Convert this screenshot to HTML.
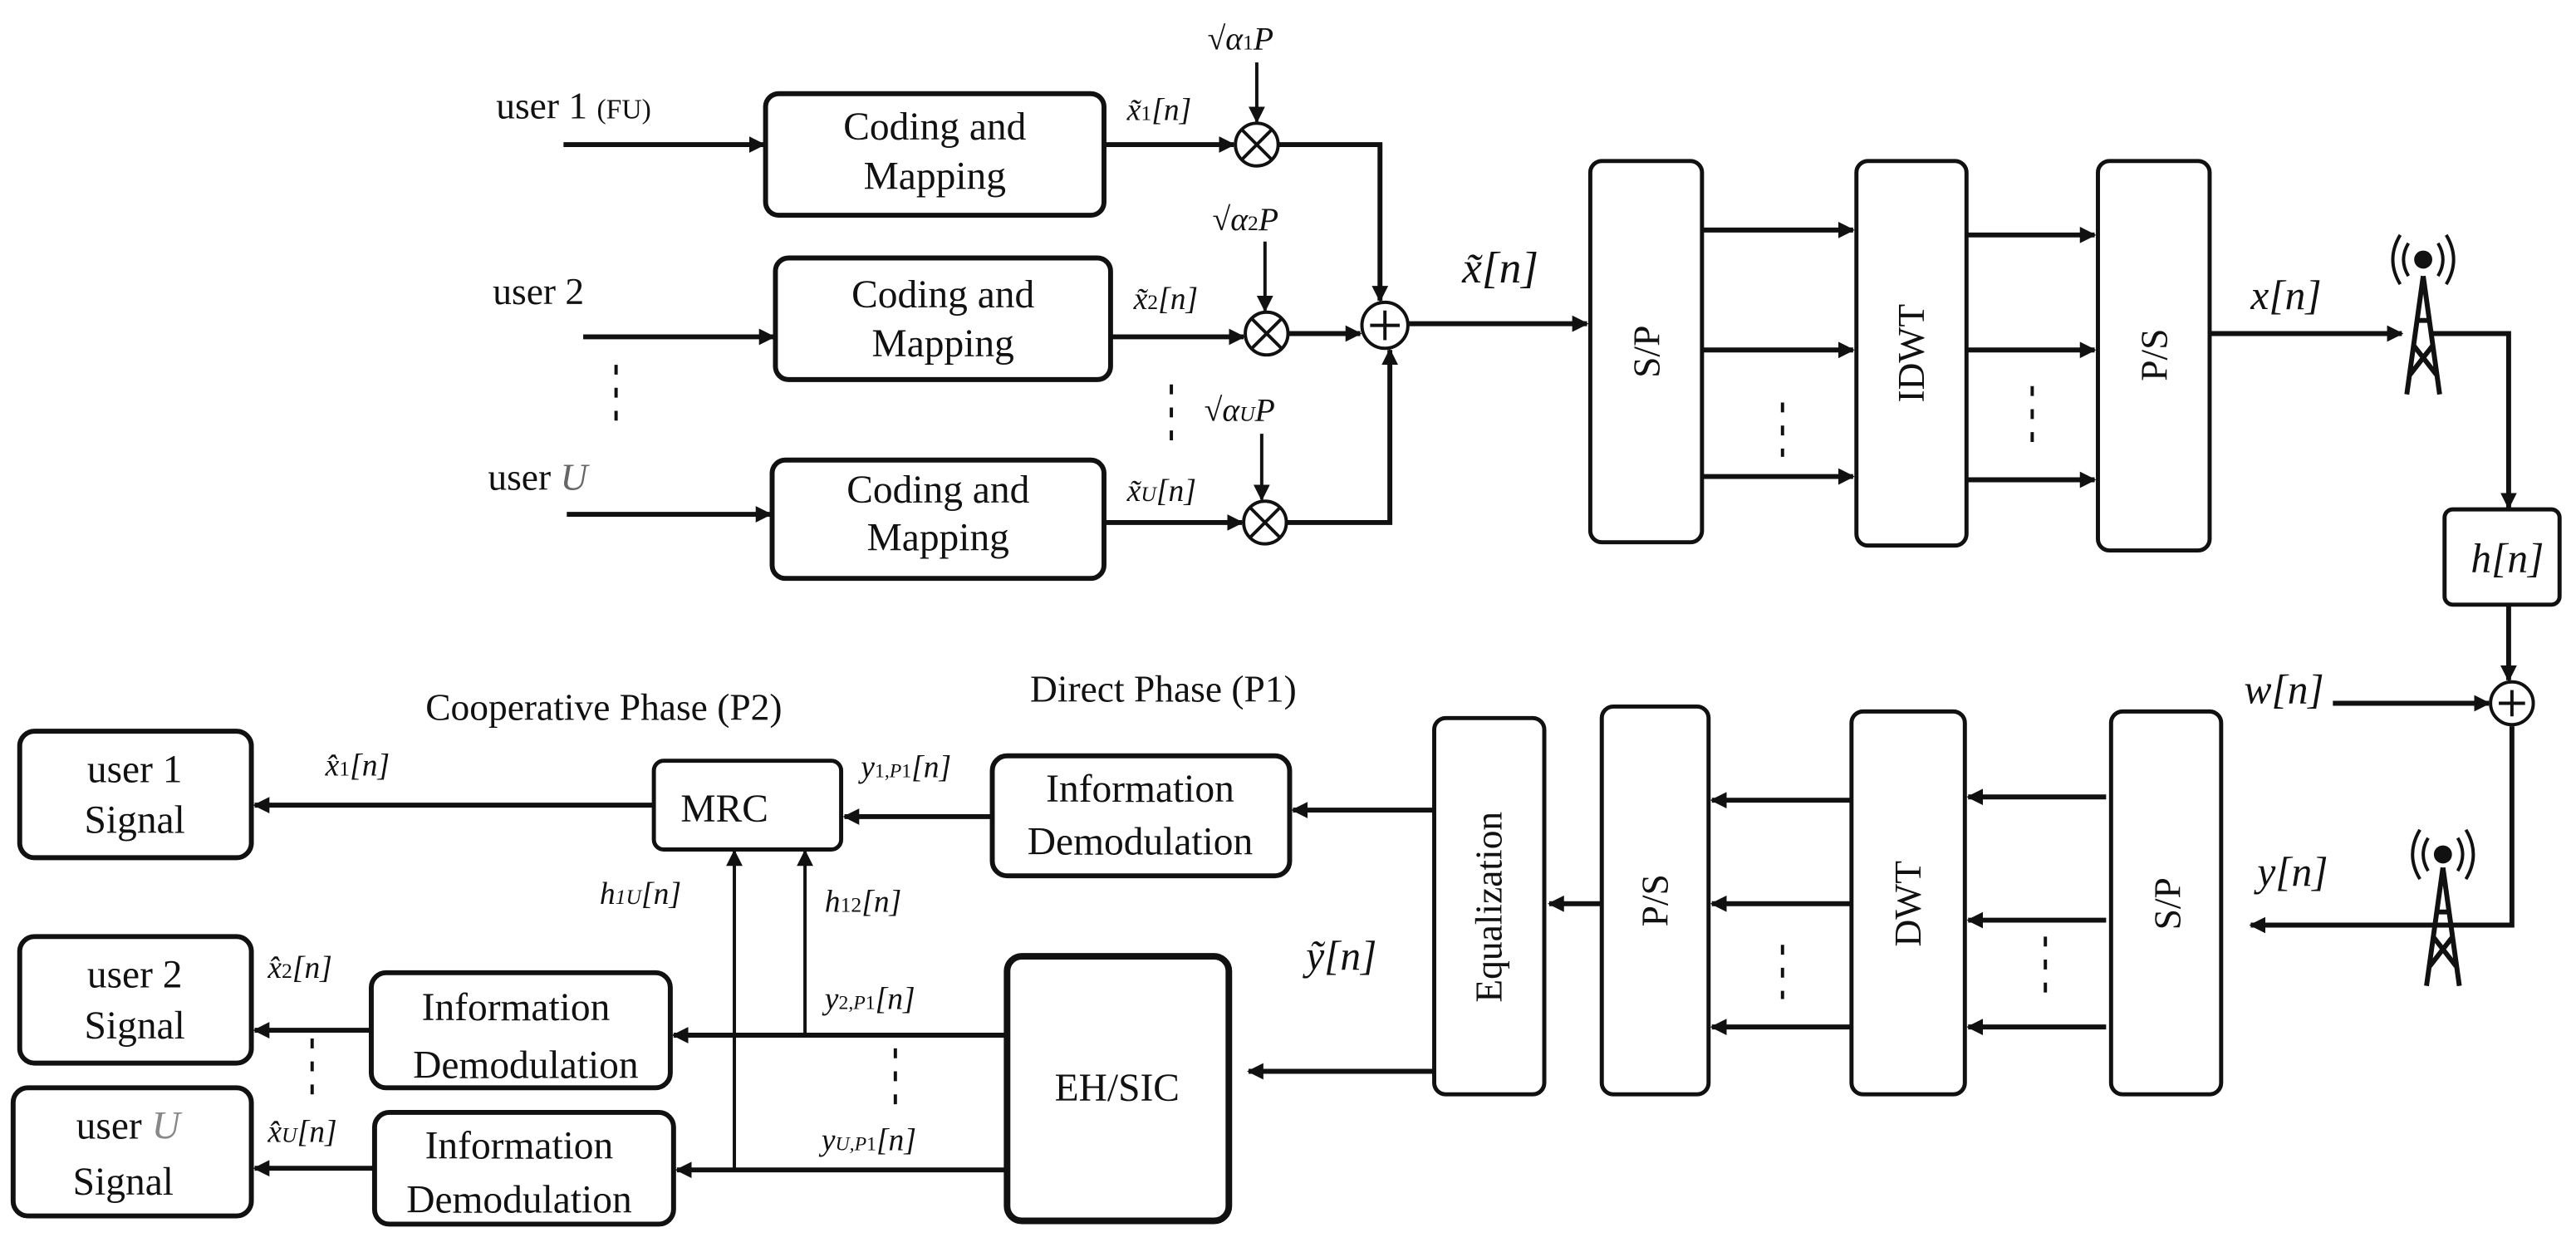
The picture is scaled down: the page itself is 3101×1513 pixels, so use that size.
<!DOCTYPE html>
<html><head><meta charset="utf-8"><style>
html,body{margin:0;padding:0;background:#fff;}
svg{display:block;}
text{font-family:"Liberation Serif",serif;fill:#111;}
.m{font-style:italic;}
</style></head><body>
<svg width="3101" height="1513" viewBox="0 0 1568 765" preserveAspectRatio="none" xmlns="http://www.w3.org/2000/svg">
<defs>
<marker id="a" markerWidth="10" markerHeight="10" refX="9" refY="5" orient="auto" markerUnits="userSpaceOnUse"><path d="M0,0 L10,5 L0,10 z" fill="#111"/></marker>
</defs>
<g stroke="#111" stroke-width="3" fill="none">
<rect x="466" y="57" width="206" height="74" rx="8"/>
<rect x="472" y="157" width="204" height="74" rx="8"/>
<rect x="470" y="280" width="202" height="72" rx="8"/>
<rect x="968" y="98" width="68" height="232" rx="7" stroke-width="2.5"/>
<rect x="1130" y="98" width="67" height="234" rx="7" stroke-width="2.5"/>
<rect x="1277" y="98" width="68" height="237" rx="7" stroke-width="2.5"/>
<rect x="1488" y="310" width="70" height="58" rx="5" stroke-width="2.5"/>
<rect x="1285" y="433" width="67" height="233" rx="7" stroke-width="2.5"/>
<rect x="1127" y="433" width="69" height="233" rx="7" stroke-width="2.5"/>
<rect x="975" y="430" width="65" height="236" rx="7" stroke-width="2.5"/>
<rect x="873" y="437" width="67" height="229" rx="7" stroke-width="2.5"/>
<rect x="604" y="460" width="181" height="73" rx="9"/>
<rect x="398" y="463" width="114" height="54" rx="6" stroke-width="2.5"/>
<rect x="12" y="445" width="141" height="77" rx="9"/>
<rect x="613" y="582" width="135" height="161" rx="9" stroke-width="4"/>
<rect x="226" y="592" width="182" height="70" rx="9"/>
<rect x="228" y="677" width="182" height="68" rx="9"/>
<rect x="12" y="570" width="141" height="77" rx="9"/>
<rect x="8" y="662" width="145" height="78" rx="9"/>
<circle cx="765" cy="88" r="13" stroke-width="2"/>
<circle cx="771" cy="203" r="13" stroke-width="2"/>
<circle cx="770" cy="318" r="13" stroke-width="2"/>
<circle cx="843" cy="198" r="14" stroke-width="2"/>
<circle cx="1529" cy="428" r="13" stroke-width="2"/>
</g>
<g stroke="#111" stroke-width="2">
<path d="M756,79 L774,97 M774,79 L756,97"/>
<path d="M762,194 L780,212 M780,194 L762,212"/>
<path d="M761,309 L779,327 M779,309 L761,327"/>
<path d="M843,189 V207 M834,198 H852"/>
<path d="M1529,420 V436 M1521,428 H1537"/>
</g>
<g stroke="#111" stroke-width="3" fill="none" marker-end="url(#a)">
<path d="M343,88 H465"/>
<path d="M355,205 H471"/>
<path d="M345,313 H469"/>
<path d="M672,88 H751"/>
<path d="M676,205 H757"/>
<path d="M672,318 H756"/>
<path d="M778,88 H840 V183"/>
<path d="M784,203 H828"/>
<path d="M783,318 H846 V213"/>
<path d="M857,197 H966"/>
<path d="M1036,140 H1128"/><path d="M1036,213 H1128"/><path d="M1036,290 H1128"/>
<path d="M1197,143 H1275"/><path d="M1197,213 H1275"/><path d="M1197,292 H1275"/>
<path d="M1345,203 H1462"/>
<path d="M1480,203 H1527 V309"/>
<path d="M1527,368 V414"/>
<path d="M1420,428 H1515"/>
<path d="M1529,442 V563 H1370"/>
<path d="M1282,485 H1198"/><path d="M1282,560 H1198"/><path d="M1282,625 H1198"/>
<path d="M1127,487 H1042"/><path d="M1127,550 H1042"/><path d="M1127,625 H1042"/>
<path d="M975,550 H943"/>
<path d="M873,493 H787"/>
<path d="M604,497 H514"/>
<path d="M398,490 H155"/>
<path d="M873,652 H760"/>
<path d="M613,630 H410"/>
<path d="M613,712 H412"/>
<path d="M226,627 H155"/>
<path d="M228,711 H155"/>
</g>
<g stroke="#111" stroke-width="2" fill="none" marker-end="url(#a)">
<path d="M765,38 V74"/>
<path d="M770,147 V189"/>
<path d="M768,264 V304"/>
<path d="M490,630 V518"/>
<path d="M447,712 V518"/>
</g>
<g stroke="#111" stroke-width="2" stroke-dasharray="6,8">
<path d="M375,222 V262"/><path d="M713,234 V272"/>
<path d="M1085,245 V278"/><path d="M1237,235 V272"/>
<path d="M1245,570 V608"/><path d="M1085,575 V608"/>
<path d="M545,638 V678"/><path d="M190,632 V668"/>
</g>
<g stroke="#111" stroke-width="3" fill="none">
<path d="M1475,168 L1465,240 M1475,168 L1485,240 M1469,210 L1483,228 M1481,210 L1467,228 M1470,195 H1480"/>
<circle cx="1475" cy="158" r="4" fill="#111"/>
<path d="M1466,148 Q1460,158 1466,168 M1484,148 Q1490,158 1484,168 M1461,143 Q1452,158 1461,173 M1489,143 Q1498,158 1489,173" stroke-width="2"/>
<path d="M1487,528 L1477,600 M1487,528 L1497,600 M1481,570 L1495,588 M1493,570 L1479,588 M1482,555 H1492"/>
<circle cx="1487" cy="520" r="4" fill="#111"/>
<path d="M1478,510 Q1472,520 1478,530 M1496,510 Q1502,520 1496,530 M1473,505 Q1464,520 1473,535 M1501,505 Q1510,520 1501,535" stroke-width="2"/>
</g>
<g font-size="23">
<text x="302" y="72">user 1 <tspan font-size="17">(FU)</tspan></text>
<text x="300" y="185">user 2</text>
<text x="297" y="298">user <tspan class="m" fill="#666">U</tspan></text>
<text x="569" y="85" text-anchor="middle" font-size="24">Coding and</text>
<text x="569" y="115" text-anchor="middle" font-size="24">Mapping</text>
<text x="574" y="187" text-anchor="middle" font-size="24">Coding and</text>
<text x="574" y="217" text-anchor="middle" font-size="24">Mapping</text>
<text x="571" y="306" text-anchor="middle" font-size="24">Coding and</text>
<text x="571" y="335" text-anchor="middle" font-size="24">Mapping</text>
<text class="m" x="686" y="73" font-size="19">x̃<tspan font-size="13" font-style="normal">1</tspan>[n]</text>
<text class="m" x="690" y="188" font-size="19">x̃<tspan font-size="13" font-style="normal">2</tspan>[n]</text>
<text class="m" x="686" y="305" font-size="19">x̃<tspan font-size="13">U</tspan>[n]</text>
<text class="m" x="735" y="30" font-size="20">√α<tspan font-size="13" font-style="normal">1</tspan>P</text>
<text class="m" x="738" y="140" font-size="20">√α<tspan font-size="13" font-style="normal">2</tspan>P</text>
<text class="m" x="733" y="256" font-size="20">√α<tspan font-size="13">U</tspan>P</text>
<text class="m" x="890" y="172" font-size="27">x̃[n]</text>
<text class="m" x="1370" y="188" font-size="25">x[n]</text>
<text class="m" x="1504" y="348" font-size="25">h[n]</text>
<text class="m" x="1366" y="428" font-size="25">w[n]</text>
<text class="m" x="1374" y="539" font-size="25">y[n]</text>
<text class="m" x="795" y="590" font-size="25">ỹ[n]</text>
<text transform="translate(1010,214) rotate(-90)" text-anchor="middle" font-size="23">S/P</text>
<text transform="translate(1171,215) rotate(-90)" text-anchor="middle" font-size="23">IDWT</text>
<text transform="translate(1319,216) rotate(-90)" text-anchor="middle" font-size="23">P/S</text>
<text transform="translate(1327,550) rotate(-90)" text-anchor="middle" font-size="23">S/P</text>
<text transform="translate(1169,550) rotate(-90)" text-anchor="middle" font-size="23">DWT</text>
<text transform="translate(1015,548) rotate(-90)" text-anchor="middle" font-size="23">P/S</text>
<text transform="translate(914,552) rotate(-90)" text-anchor="middle" font-size="23">Equalization</text>
<text x="627" y="427">Direct Phase (P1)</text>
<text x="259" y="438">Cooperative Phase (P2)</text>
<text x="694" y="488" text-anchor="middle" font-size="24">Information</text>
<text x="694" y="520" text-anchor="middle" font-size="24">Demodulation</text>
<text x="441" y="500" text-anchor="middle" font-size="24">MRC</text>
<text x="82" y="476" text-anchor="middle" font-size="24">user 1</text>
<text x="82" y="507" text-anchor="middle" font-size="24">Signal</text>
<text x="82" y="601" text-anchor="middle" font-size="24">user 2</text>
<text x="82" y="632" text-anchor="middle" font-size="24">Signal</text>
<text x="78" y="693" text-anchor="middle" font-size="24">user <tspan class="m" fill="#888">U</tspan></text>
<text x="75" y="727" text-anchor="middle" font-size="24">Signal</text>
<text x="680" y="670" text-anchor="middle" font-size="24">EH/SIC</text>
<text x="314" y="621" text-anchor="middle" font-size="24">Information</text>
<text x="320" y="656" text-anchor="middle" font-size="24">Demodulation</text>
<text x="316" y="705" text-anchor="middle" font-size="24">Information</text>
<text x="316" y="738" text-anchor="middle" font-size="24">Demodulation</text>
<text class="m" x="524" y="473" font-size="19">y<tspan font-size="12" font-style="normal">1,</tspan><tspan font-size="12">P</tspan><tspan font-size="12" font-style="normal">1</tspan>[n]</text>
<text class="m" x="198" y="472" font-size="19">x̂<tspan font-size="13" font-style="normal">1</tspan>[n]</text>
<text class="m" x="163" y="595" font-size="19">x̂<tspan font-size="13" font-style="normal">2</tspan>[n]</text>
<text class="m" x="163" y="695" font-size="19">x̂<tspan font-size="13">U</tspan>[n]</text>
<text class="m" x="365" y="550" font-size="19">h<tspan font-size="13">1U</tspan>[n]</text>
<text class="m" x="502" y="555" font-size="19">h<tspan font-size="13" font-style="normal">12</tspan>[n]</text>
<text class="m" x="502" y="614" font-size="19">y<tspan font-size="12" font-style="normal">2,</tspan><tspan font-size="12">P</tspan><tspan font-size="12" font-style="normal">1</tspan>[n]</text>
<text class="m" x="500" y="700" font-size="19">y<tspan font-size="12">U,P</tspan><tspan font-size="12" font-style="normal">1</tspan>[n]</text>
</g>
</svg>
</body></html>
